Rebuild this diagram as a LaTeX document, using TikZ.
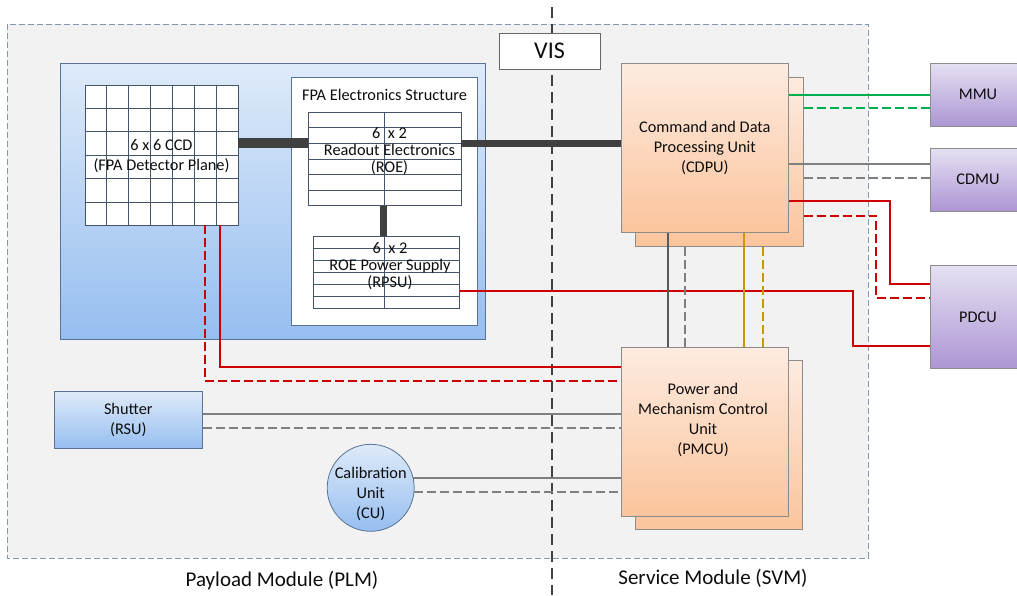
\documentclass[tikz,border=0pt]{standalone}
\usepackage{fontspec}
\setmainfont{Carlito}
\usepackage{tikz}
\usetikzlibrary{calc}

\definecolor{panelgray}{HTML}{F2F2F2}
\definecolor{framegray}{HTML}{8497B0}
\definecolor{bluetop}{HTML}{DEEAF9}
\definecolor{bluebot}{HTML}{96BEF0}
\definecolor{blueedge}{HTML}{5A7393}
\definecolor{orangetop}{HTML}{FDEBE0}
\definecolor{orangebot}{HTML}{FBC49C}
\definecolor{purpletop}{HTML}{E6E0F2}
\definecolor{purplebot}{HTML}{AC96D4}
\definecolor{busgray}{HTML}{404040}
\definecolor{gridblue}{HTML}{44546A}
\definecolor{linkgreen}{HTML}{00B050}
\definecolor{linkred}{HTML}{CC0000}
\definecolor{linkgray}{HTML}{7F7F7F}
\definecolor{linkgold}{HTML}{C99A00}

\tikzset{
  bluebox/.style = {draw=blueedge, line width=0.8pt, top color=bluetop, bottom color=bluebot},
  orangebox/.style = {draw=black!45, line width=0.8pt, top color=orangetop, bottom color=orangebot, align=center},
  purplebox/.style = {draw=black!45, line width=0.8pt, top color=purpletop, bottom color=purplebot},
  gridbox/.style = {draw=gridblue, line width=0.7pt, fill=white},
  wire/.style = {line width=2.2pt},
  wirealt/.style = {line width=2.2pt, dash pattern=on 9pt off 4pt},
  bus/.style = {busgray, line width=7pt}
}

\begin{document}
\begin{tikzpicture}[x=1pt, y=-1pt, font=\fontsize{16.3}{20}\selectfont, text=black!95]
  \useasboundingbox (0,0) rectangle (1017,595);

  % instrument frame and PLM / SVM split
  \fill[panelgray] (7,24) rectangle (868,558);
  \draw[framegray, line width=0.9pt, dash pattern=on 6pt off 3pt] (7,24) rectangle (868,558);
  \draw[busgray, line width=1.4pt, dash pattern=on 11pt off 6pt] (552,7) -- (552,595);
  \node[draw=black!60, fill=white, minimum width=101pt, minimum height=36pt,
        font=\fontsize{24}{26}\selectfont] (vis) at (549.5,51) {VIS};

  % focal plane assembly
  \node[bluebox, minimum width=425pt, minimum height=276pt] (fpa) at (272.5,201) {};
  \node[gridbox, minimum width=153pt, minimum height=140pt] (ccd) at (161.5,155) {};
  \foreach \i in {1,...,6}
    \draw[gridblue, line width=0.6pt] ($(ccd.north west)!\i/7!(ccd.north east)$) -- ($(ccd.south west)!\i/7!(ccd.south east)$);
  \foreach \j in {1,...,5}
    \draw[gridblue, line width=0.6pt] ($(ccd.north west)!\j/6!(ccd.south west)$) -- ($(ccd.north east)!\j/6!(ccd.south east)$);
  \node[align=center] (ccdtext) at (161.5,156) {6 x 6 CCD\\(FPA Detector Plane)};

  \node[draw=blueedge, line width=0.8pt, fill=white, minimum width=185.6pt, minimum height=247.3pt] (fes) at (384.5,201.3) {};
  \node (festitle) at (384.5,95) {FPA Electronics Structure};

  \node[gridbox, minimum width=152.7pt, minimum height=93.4pt] (roe) at (384.65,159) {};
  \draw[gridblue, line width=0.6pt] (roe.north -| 384,0) -- (roe.south -| 384,0);
  \foreach \j in {1,...,5}
    \draw[gridblue, line width=0.6pt] ($(roe.north west)!\j/6!(roe.south west)$) -- ($(roe.north east)!\j/6!(roe.south east)$);
  \node[align=center, font=\fontsize{16.3}{17}\selectfont] (roetext) at (389.5,150.7) {6\ \ x 2\\Readout Electronics\\(ROE)};

  \node[gridbox, minimum width=146pt, minimum height=71.6pt] (rpsu) at (386.3,272.5) {};
  \draw[gridblue, line width=0.6pt] (rpsu.north -| 384.3,0) -- (rpsu.south -| 384.3,0);
  \foreach \j in {1,...,5}
    \draw[gridblue, line width=0.6pt] ($(rpsu.north west)!\j/6!(rpsu.south west)$) -- ($(rpsu.north east)!\j/6!(rpsu.south east)$);
  \node[align=center, font=\fontsize{16.3}{17}\selectfont] (rpsutext) at (390,266.5) {6\ \ x 2\\ROE Power Supply\\(RPSU)};

  \node[bluebox, minimum width=148pt, minimum height=56.6pt, align=center] (shutter) at (128.3,420) {Shutter\\(RSU)};
  \node[bluebox, circle, minimum size=87pt, inner sep=0pt] (cu) at (370.7,487.8) {};
  \node[align=center] (cutext) at (370.7,494) {Calibration\\Unit\\(CU)};

  % service module units
  \node[orangebox, minimum width=167.7pt, minimum height=169pt] (cdpub) at (719.3,162.2) {};
  \node[orangebox, minimum width=167.7pt, minimum height=169pt] (cdpu) at (704.85,147.65) {Command and Data\\Processing Unit\\(CDPU)};
  \node[orangebox, minimum width=167pt, minimum height=169pt] (pmcub) at (719,445) {};
  \node[orangebox, minimum width=167pt, minimum height=169pt] (pmcu) at (705,431.5) {};
  \node[align=center] (pmcutext) at (703,420) {Power and\\Mechanism Control\\Unit\\(PMCU)};

  \node[purplebox, minimum width=96pt, minimum height=62.7pt] (mmu) at (978,94.7) {MMU};
  \node[purplebox, minimum width=96pt, minimum height=62.7pt] (cdmu) at (978,179.7) {CDMU};
  \node[purplebox, minimum width=96pt, minimum height=102.3pt] (pdcu) at (978,316.8) {PDCU};

  % data buses
  \draw[bus, line width=10pt] (ccd.east |- 0,143.3) -- (roe.west |- 0,143.3);
  \draw[bus] (roe.east |- 0,143.3) -- (cdpu.west |- 0,143.3);
  \draw[bus] (roe.south -| 383.7,0) -- (rpsu.north -| 383.7,0);

  % harness
  \draw[wire, linkgreen] (cdpu.east |- mmu.west) -- (mmu.west);
  \draw[wirealt, linkgreen] (cdpub.east |- 0,108.3) -- (mmu.west |- 0,108.3);
  \draw[wire, linkgray] (cdpu.east |- 0,164) -- (cdmu.west |- 0,164);
  \draw[wirealt, linkgray] (cdpub.east |- 0,178.3) -- (cdmu.west |- 0,178.3);
  \draw[wire, linkred] (cdpu.east |- 0,201) -| (890,284.3) -- (pdcu.west |- 0,284.3);
  \draw[wirealt, linkred] (cdpub.east |- 0,215.7) -| (876,298.3) -- (pdcu.west |- 0,298.3);
  \draw[wire, linkred] (rpsu.east |- 0,290.7) -| (853.3,346) -- (pdcu.west |- 0,346);

  \draw[wire, black!65] (cdpu.south -| 668.3,0) -- (pmcu.north -| 668.3,0);
  \draw[wirealt, linkgray] (cdpub.south -| 685,0) -- (pmcu.north -| 685,0);
  \draw[wire, linkgold] (cdpu.south -| 744.3,0) -- (pmcu.north -| 744.3,0);
  \draw[wirealt, linkgold] (cdpub.south -| 762.7,0) -- (pmcu.north -| 762.7,0);

  \draw[wire, linkred] (ccd.south -| 220,0) |- (pmcu.west |- 0,367.3);
  \draw[wirealt, linkred] (ccd.south -| 205,0) |- (pmcu.west |- 0,381);
  \draw[wire, linkgray] (shutter.east |- 0,414.3) -- (pmcu.west |- 0,414.3);
  \draw[wirealt, linkgray] (shutter.east |- 0,428.3) -- (pmcu.west |- 0,428.3);
  \draw[wire, linkgray] (cu.13) -- (pmcu.west |- cu.13);
  \draw[wirealt, linkgray] (cu.-5) -- (pmcu.west |- cu.-5);

  % module labels
  \node[font=\fontsize{21}{24}\selectfont] (plm) at (282,581) {Payload Module (PLM)};
  \node[font=\fontsize{21}{24}\selectfont] (svm) at (713,578) {Service Module (SVM)};
\end{tikzpicture}
\end{document}
